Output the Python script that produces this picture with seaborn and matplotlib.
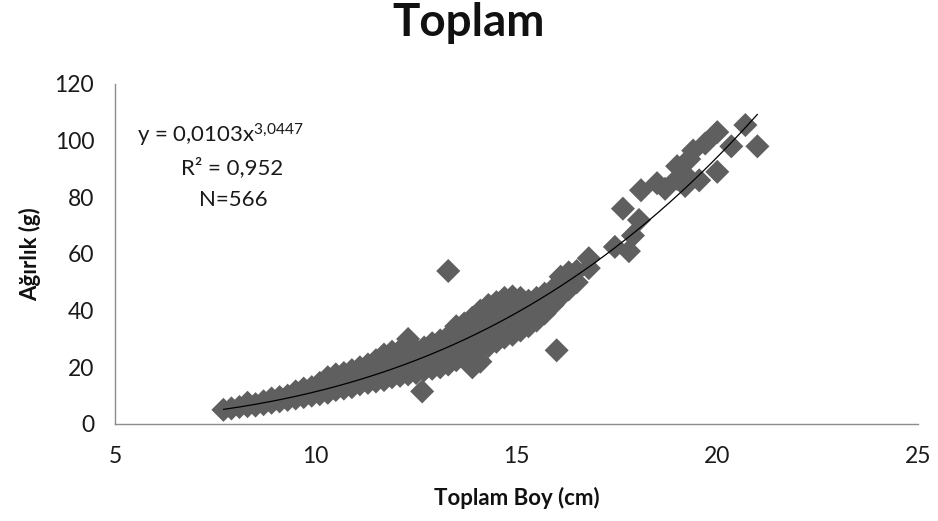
import numpy as np
import pandas as pd
import matplotlib
matplotlib.use("Agg")
import matplotlib.pyplot as plt
import seaborn as sns

# Total length (cm) and weight (g) of sampled fish
boy_cm = [
    7.7, 7.9, 8.1, 8.3, 8.3, 8.5, 8.5, 8.7, 8.7, 8.9, 8.9, 9.1, 9.1, 9.3, 9.3,
    9.5, 9.5, 9.5, 9.7, 9.7, 9.7, 9.9, 9.9, 9.9, 10.1, 10.1, 10.1,
    10.3, 10.3, 10.3, 10.5, 10.5, 10.5, 10.7, 10.7, 10.7, 10.9, 10.9, 10.9,
    11.1, 11.1, 11.1, 11.3, 11.3, 11.3, 11.5, 11.5, 11.5, 11.7, 11.7, 11.7,
    11.9, 11.9, 11.9, 12.1, 12.1, 12.1, 12.3, 12.3, 12.3, 12.3,
    12.5, 12.5, 12.5, 12.65, 12.7, 12.7, 12.7, 12.9, 12.9, 12.9,
    13.1, 13.1, 13.1, 13.3, 13.3, 13.3, 13.3, 13.5, 13.5, 13.5, 13.5,
    13.7, 13.7, 13.7, 13.7, 13.9, 13.9, 13.9, 13.9, 13.9,
    14.1, 14.1, 14.1, 14.1, 14.1, 14.3, 14.3, 14.3, 14.3,
    14.5, 14.5, 14.5, 14.5, 14.7, 14.7, 14.7, 14.7, 14.9, 14.9, 14.9, 14.9,
    15.1, 15.1, 15.1, 15.1, 15.3, 15.3, 15.3, 15.3, 15.5, 15.5, 15.5,
    15.7, 15.7, 15.7, 15.9, 15.9, 15.9, 16.0, 16.1, 16.1, 16.1,
    16.3, 16.3, 16.3, 16.5, 16.5, 16.8, 16.8,
    17.45, 17.65, 17.8, 17.9, 18.05, 18.1, 18.5, 18.7, 19.0, 19.0,
    19.2, 19.2, 19.3, 19.4, 19.55, 19.7, 20.0, 20.0, 20.35, 20.7, 21.0,
]
agirlik_g = [
    5.0, 5.5, 6.0, 6.3, 7.5, 6.5, 7.0, 7.0, 8.0, 7.5, 9.0, 8.0, 9.5, 8.5, 10.0,
    9.0, 10.5, 11.5, 9.5, 11.0, 12.5, 10.0, 11.5, 13.0, 10.5, 12.5, 14.5,
    11.0, 13.5, 16.5, 12.0, 14.5, 17.5, 12.5, 15.5, 18.0, 13.0, 16.0, 19.0,
    14.0, 17.0, 20.0, 14.5, 18.0, 21.0, 15.0, 19.0, 22.5, 15.5, 19.5, 24.5,
    16.5, 20.5, 25.5, 17.0, 21.0, 26.0, 17.5, 22.0, 26.5, 30.0,
    18.0, 22.5, 26.0, 11.5, 19.0, 23.5, 27.0, 19.5, 24.0, 28.5,
    20.0, 25.0, 29.5, 21.0, 26.5, 31.0, 54.0, 22.5, 27.5, 32.0, 34.5,
    24.0, 29.0, 33.5, 35.5, 20.0, 25.5, 30.0, 34.5, 37.5,
    22.0, 27.0, 31.5, 36.5, 40.0, 27.5, 32.5, 37.5, 42.0,
    29.0, 34.0, 38.5, 43.0, 30.5, 35.0, 40.0, 44.5, 31.5, 36.0, 40.5, 45.0,
    33.0, 37.0, 41.5, 44.5, 34.5, 38.5, 42.5, 43.5, 36.5, 40.0, 44.5,
    39.0, 42.0, 46.0, 42.0, 44.5, 47.5, 26.0, 45.0, 48.5, 52.0,
    47.5, 50.5, 53.5, 50.0, 54.0, 55.0, 58.5,
    62.5, 76.0, 61.0, 66.5, 72.0, 82.5, 85.0, 83.0, 91.0, 86.5,
    84.0, 88.0, 93.5, 96.5, 86.0, 99.0, 89.0, 103.0, 98.0, 105.5, 98.0,
]

# Power trend line fitted to the data: y = a * x^b
trend_a = 0.0103
trend_b = 3.0447
trend_x = np.linspace(7.7, 21.0, 200)

df = pd.DataFrame({"boy": boy_cm, "agirlik": agirlik_g})
trend_df = pd.DataFrame({"boy": trend_x, "agirlik": trend_a * trend_x ** trend_b})

sns.set_theme(style="white")
plt.rcParams["font.family"] = ["Lato", "DejaVu Sans"]
plt.rcParams["mathtext.default"] = "regular"

fig = plt.figure(figsize=(9.38, 5.21), dpi=100)
ax = fig.add_axes([0.1226, 0.1862, 0.8561, 0.6526])

sns.scatterplot(data=df, x="boy", y="agirlik", marker="D", s=150,
                color="#5f5f5f", edgecolor="none", linewidth=0, ax=ax, zorder=2)
sns.lineplot(data=trend_df, x="boy", y="agirlik", color="black", linewidth=0.9,
             ax=ax, zorder=3)

ax.set_xlim(5, 25)
ax.set_ylim(0, 120)
ax.set_xticks([5, 10, 15, 20, 25])
ax.set_yticks([0, 20, 40, 60, 80, 100, 120])

for side in ("top", "right"):
    ax.spines[side].set_visible(False)
for side in ("left", "bottom"):
    ax.spines[side].set_color("#8c8c8c")
    ax.spines[side].set_linewidth(1.0)
ax.tick_params(axis="both", direction="out", length=7, width=1.0,
               color="#8c8c8c", labelsize=16.5, labelcolor="#1a1a1a", pad=8)
ax.tick_params(axis="x", pad=9)

ax.set_xlabel("Toplam Boy (cm)", fontsize=16, fontweight="bold", labelpad=14,
              color="#111111")
ax.set_ylabel("Ağırlık (g)", fontsize=16, fontweight="bold", labelpad=10,
              color="#111111")
fig.text(0.5, 0.955, "Toplam", ha="center", va="center", fontsize=33,
         fontweight="bold", color="#111111")

ax.text(7.62, 102, "y = 0,0103x$^{3{,}0447}$", ha="center", va="center",
        fontsize=16, color="#1a1a1a")
ax.text(7.91, 90.5, "R² = 0,952", ha="center", va="center",
        fontsize=16, color="#1a1a1a")
ax.text(7.94, 79, "N=566", ha="center", va="center",
        fontsize=16, color="#1a1a1a")

fig.savefig("out.png", dpi=100)
